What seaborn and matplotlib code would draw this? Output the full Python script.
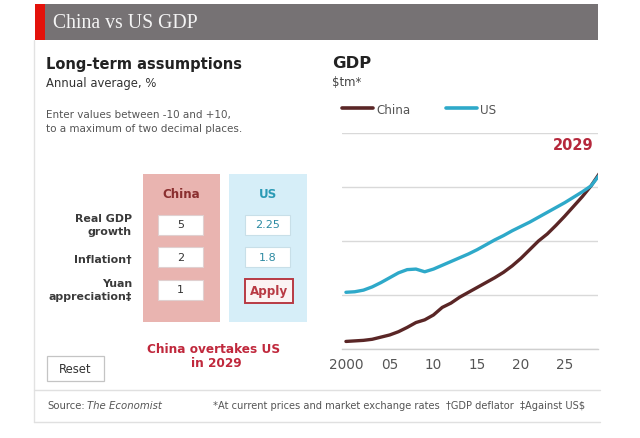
import numpy as np
import pandas as pd
import matplotlib
matplotlib.use("Agg")
import matplotlib.pyplot as plt
from matplotlib.patches import Rectangle
from matplotlib.lines import Line2D
import seaborn as sns

# ---------------- data ----------------
years = list(range(2000, 2030))
china_gdp = [1.4, 1.5, 1.6, 1.8, 2.2, 2.6, 3.2, 4.0, 4.9, 5.4,
             6.3, 7.7, 8.5, 9.6, 10.5, 11.4, 12.3, 13.2, 14.2, 15.4,
             16.8, 18.4, 20.0, 21.3, 22.9, 24.6, 26.4, 28.2, 30.2, 32.6]
us_gdp = [10.5, 10.6, 10.9, 11.5, 12.3, 13.2, 14.1, 14.7, 14.8, 14.3,
          14.8, 15.5, 16.2, 16.9, 17.6, 18.4, 19.3, 20.2, 21.0, 21.9,
          22.7, 23.5, 24.4, 25.3, 26.2, 27.1, 28.1, 29.1, 30.2, 32.3]
series_names = ["China", "US"]
xtick_values = [2000, 2005, 2010, 2015, 2020, 2025]
xtick_labels = ["2000", "05", "10", "15", "20", "25"]
ygrid_values = [0, 10, 20, 30, 40]

row_labels = [["Real GDP", "growth"], ["Inflation\u2020"], ["Yuan", "appreciation\u2021"]]
china_inputs = ["5", "2", "1"]
us_inputs = ["2.25", "1.8"]
overtake_year = "2029"

CHINA_C = "#5a2626"
US_C = "#2ea9c9"

df = pd.DataFrame({
    "year": years * 2,
    "gdp": china_gdp + us_gdp,
    "country": ["China"] * len(years) + ["US"] * len(years),
})

sns.set_theme(style="white")
plt.rcParams["font.family"] = ["DejaVu Sans"]

W, H = 640, 439
fig = plt.figure(figsize=(6.4, 4.39), dpi=100)
fig.patch.set_facecolor("white")

# background / decoration axes in pixel coordinates
bg = fig.add_axes([0, 0, 1, 1], zorder=0)
bg.set_xlim(0, W)
bg.set_ylim(H, 0)
bg.axis("off")

# title bar
bg.add_patch(Rectangle((35, 5), 563, 36, facecolor="#767274", edgecolor="none"))
bg.add_patch(Rectangle((35, 5), 10, 36, facecolor="#e3120b", edgecolor="none"))
bg.text(53, 23.5, "China vs US GDP", family="Liberation Serif", fontsize=14.2,
        color="#f4f4f4", va="center", ha="left")

# panel borders
bg.plot([34, 34], [41, 423], color="#e2e2e2", lw=1)
bg.plot([34, 600], [391, 391], color="#e0e0e0", lw=1)
bg.plot([34, 600], [423, 423], color="#e0e0e0", lw=1)

# left section texts
bg.text(46, 65, "Long-term assumptions", fontsize=10.5, fontweight="bold",
        color="#222222", va="center", ha="left")
bg.text(46, 83, "Annual average, %", fontsize=8.4, color="#333333",
        va="center", ha="left")
bg.text(46, 115, "Enter values between -10 and +10,", fontsize=7.5,
        color="#555555", va="center", ha="left")
bg.text(46, 129, "to a maximum of two decimal places.", fontsize=7.5,
        color="#555555", va="center", ha="left")

# input panels
bg.add_patch(Rectangle((143, 175), 77, 148, facecolor="#e9b4b0", edgecolor="none"))
bg.add_patch(Rectangle((229, 175), 78, 148, facecolor="#d6eef8", edgecolor="none"))
bg.text(181.5, 195, "China", fontsize=8.6, fontweight="bold", color="#8a2f2f",
        ha="center", va="center")
bg.text(268, 195, "US", fontsize=8.6, fontweight="bold", color="#2a9ab5",
        ha="center", va="center")

row_y = [225.5, 258, 290.5]
for lab, yc in zip(row_labels, row_y):
    if len(lab) == 2:
        bg.text(132, yc - 6.5, lab[0], fontsize=7.9, fontweight="bold",
                color="#3a3a3a", ha="right", va="center")
        bg.text(132, yc + 7, lab[1], fontsize=7.9, fontweight="bold",
                color="#3a3a3a", ha="right", va="center")
    else:
        bg.text(132, yc + 2, lab[0], fontsize=7.9, fontweight="bold",
                color="#3a3a3a", ha="right", va="center")

for val, yc in zip(china_inputs, row_y):
    bg.add_patch(Rectangle((158, yc - 10), 45, 20, facecolor="white",
                           edgecolor="#e0d0d0", lw=0.8))
    bg.text(180.5, yc, val, fontsize=8, color="#333333", ha="center", va="center")

for val, yc in zip(us_inputs, row_y[:2]):
    bg.add_patch(Rectangle((245, yc - 10), 45, 20, facecolor="white",
                           edgecolor="#c8dfe8", lw=0.8))
    bg.text(267.5, yc, val, fontsize=8, color="#2c8aa2", ha="center", va="center")

bg.add_patch(Rectangle((245, 280), 48, 24, facecolor="#fbf3f3",
                       edgecolor="#b83a44", lw=1.4))
bg.text(269, 292, "Apply", fontsize=8.6, fontweight="bold", color="#b83a44",
        ha="center", va="center")

bg.text(214, 350, "China overtakes US", fontsize=8.7, fontweight="bold",
        color="#c0283c", ha="center", va="center")
bg.text(216, 364, "in " + overtake_year, fontsize=8.7, fontweight="bold",
        color="#c0283c", ha="center", va="center")

bg.add_patch(Rectangle((47, 357), 57, 25, facecolor="white",
                       edgecolor="#c4c4c4", lw=0.9))
bg.text(75.5, 369.5, "Reset", fontsize=8.4, color="#333333",
        ha="center", va="center")

# right section headings
bg.text(332, 64, "GDP", fontsize=11.8, fontweight="bold", color="#222222",
        ha="left", va="center")
bg.text(332, 83, "$tm*", fontsize=8.4, color="#444444", ha="left", va="center")
bg.text(593, 146, overtake_year, fontsize=10.5, fontweight="bold",
        color="#b5283c", ha="right", va="center")

# footer
bg.text(47, 406, "Source:", fontsize=7.3, color="#555555", ha="left", va="center")
bg.text(87, 406, "The Economist", fontsize=7.3, color="#555555", style="italic",
        ha="left", va="center")
bg.text(213, 406, "*At current prices and market exchange rates  \u2020GDP deflator  \u2021Against US$",
        fontsize=7.1, color="#555555", ha="left", va="center")

# ---------------- line chart ----------------
ax = fig.add_axes([342 / W, 1 - 350 / H, 256 / W, 216 / H], zorder=2)
ax.set_facecolor("none")
sns.lineplot(data=df, x="year", y="gdp", hue="country", hue_order=series_names,
             palette={"China": CHINA_C, "US": US_C}, linewidth=2.4, ax=ax,
             legend=False)
ax.set_xlim(1999.55, 2028.8)
ax.set_ylim(0, 40)
ax.set_yticks(ygrid_values)
ax.set_yticklabels([])
ax.set_xticks(xtick_values)
ax.set_xticklabels(xtick_labels)
ax.tick_params(axis="x", length=0, pad=6, labelsize=9.8, labelcolor="#555555")
ax.tick_params(axis="y", length=0)
ax.grid(axis="y", color="#d9d9d9", lw=1)
ax.set_axisbelow(True)
for s in ["left", "right", "top"]:
    ax.spines[s].set_visible(False)
ax.spines["bottom"].set_color("#cfcfcf")
ax.spines["bottom"].set_linewidth(1)
ax.set_xlabel("")
ax.set_ylabel("")

handles = [Line2D([0], [0], color=CHINA_C, lw=2.6),
           Line2D([0], [0], color=US_C, lw=2.6)]
leg = ax.legend(handles, series_names, loc="center left",
                bbox_to_anchor=(342 / W, 1 - 110 / H), bbox_transform=fig.transFigure,
                ncol=2, frameon=False, fontsize=8.6, handlelength=2.6,
                handletextpad=0.25, columnspacing=3.0, borderpad=0, borderaxespad=0)
for t in leg.get_texts():
    t.set_color("#555555")

fig.savefig("out.png", dpi=100, facecolor="white")
